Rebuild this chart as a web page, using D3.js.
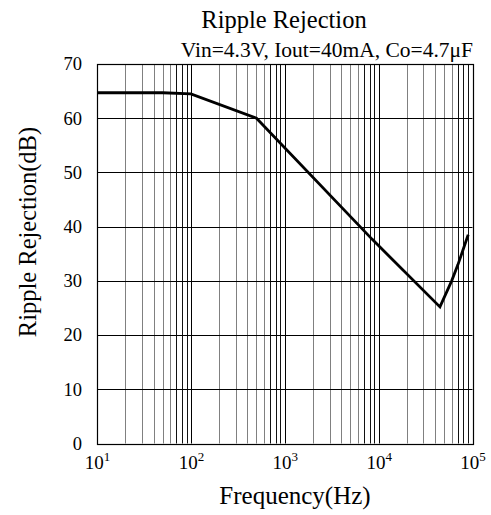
<!DOCTYPE html>
<html>
<head>
<meta charset="utf-8">
<script src="https://cdn.jsdelivr.net/npm/d3@7"></script>
<style>
  html, body { margin: 0; padding: 0; background: #fff; }
  svg { display: block; }
  text { font-family: "Liberation Serif", "Times New Roman", serif; fill: #000; }
</style>
</head>
<body>
<svg id="chart" width="491" height="515"></svg>
<script>
// ---- data ----
const title = "Ripple Rejection";
const subtitle = "Vin=4.3V, Iout=40mA, Co=4.7\u03bcF";
const xLabel = "Frequency(Hz)";
const yLabel = "Ripple Rejection(dB)";
const freqHz = [10, 50, 100, 500, 8500, 45000, 60000, 70000, 90000];
const rejectionDb = [64.7, 64.7, 64.5, 60.0, 37.7, 25.2, 30.0, 33.0, 38.5];
const xTickExponents = [1, 2, 3, 4, 5];
const yTicks = [0, 10, 20, 30, 40, 50, 60, 70];

// ---- layout ----
const pLeft = 97, pRight = 472.5, pTop = 64, pBottom = 443.5;
const svg = d3.select("#chart");

const x = d3.scaleLog().domain([10, 1e5]).range([pLeft, pRight]);
const y = d3.scaleLinear().domain([0, 70]).range([pBottom, pTop]);

const snap = v => Math.round(v) + 0.5;

// minor vertical grid
const minor = [];
for (let e = 1; e < 5; e++) for (let m = 2; m <= 9; m++) minor.push(m * Math.pow(10, e));
svg.append("g").selectAll("line").data(minor).join("line")
  .attr("x1", d => snap(x(d))).attr("x2", d => snap(x(d)))
  .attr("y1", pTop).attr("y2", pBottom)
  .attr("stroke", d => { const m = Math.round(d / Math.pow(10, Math.floor(Math.log10(d) + 1e-9))); return m >= 7 ? "#111" : "#808080"; })
  .attr("stroke-width", 1);

// major vertical grid
const majors = xTickExponents.map(e => Math.pow(10, e));
svg.append("g").selectAll("line").data(majors).join("line")
  .attr("x1", d => snap(x(d))).attr("x2", d => snap(x(d)))
  .attr("y1", pTop).attr("y2", pBottom)
  .attr("stroke", "#000").attr("stroke-width", 1);

// horizontal grid
svg.append("g").selectAll("line").data(yTicks).join("line")
  .attr("x1", pLeft).attr("x2", pRight)
  .attr("y1", d => snap(y(d))).attr("y2", d => snap(y(d)))
  .attr("stroke", "#000").attr("stroke-width", 1);

// frame
svg.append("rect")
  .attr("x", snap(pLeft)).attr("y", snap(pTop))
  .attr("width", snap(pRight) - snap(pLeft)).attr("height", snap(pBottom) - snap(pTop))
  .attr("fill", "none").attr("stroke", "#000").attr("stroke-width", 1.2);

// curve
const line = d3.line().x((d, i) => x(freqHz[i])).y(d => y(d));
svg.append("path").datum(rejectionDb)
  .attr("d", line)
  .attr("fill", "none").attr("stroke", "#000").attr("stroke-width", 2.8)
  .attr("stroke-linejoin", "miter");

// y axis labels
const yAxis = d3.axisLeft(y).tickValues(yTicks).tickSize(0).tickPadding(15).tickFormat(d3.format("d"));
const gy = svg.append("g").attr("transform", `translate(${pLeft},0)`).call(yAxis);
gy.select(".domain").remove();
gy.selectAll("text").attr("font-size", 18.5).attr("font-family", "Liberation Serif, Times New Roman, serif").attr("fill", "#000");

// x axis labels
const xAxis = d3.axisBottom(x).tickValues(majors).tickSize(0).tickPadding(0).tickFormat(() => "");
const gx = svg.append("g").attr("transform", `translate(0,${pBottom})`).call(xAxis);
gx.select(".domain").remove();
gx.selectAll(".tick text").each(function (d) {
  const t = d3.select(this);
  t.text(null).attr("y", 25).attr("dy", null).attr("text-anchor", "middle")
    .attr("font-size", 19).attr("font-family", "Liberation Serif, Times New Roman, serif").attr("fill", "#000");
  t.append("tspan").text("10");
  t.append("tspan").attr("font-size", 13).attr("dy", -8).text(Math.round(Math.log10(d)));
});

// titles
svg.append("text").attr("x", 284).attr("y", 28).attr("text-anchor", "middle")
  .attr("font-size", 24.5).text(title);
svg.append("text").attr("x", 473).attr("y", 57).attr("text-anchor", "end")
  .attr("font-size", 21.5).text(subtitle);
svg.append("text").attr("x", 295).attr("y", 504).attr("text-anchor", "middle")
  .attr("font-size", 25).text(xLabel);
svg.append("text").attr("transform", "translate(36,232) rotate(-90)").attr("text-anchor", "middle")
  .attr("font-size", 24.5).text(yLabel);
</script>
</body>
</html>
